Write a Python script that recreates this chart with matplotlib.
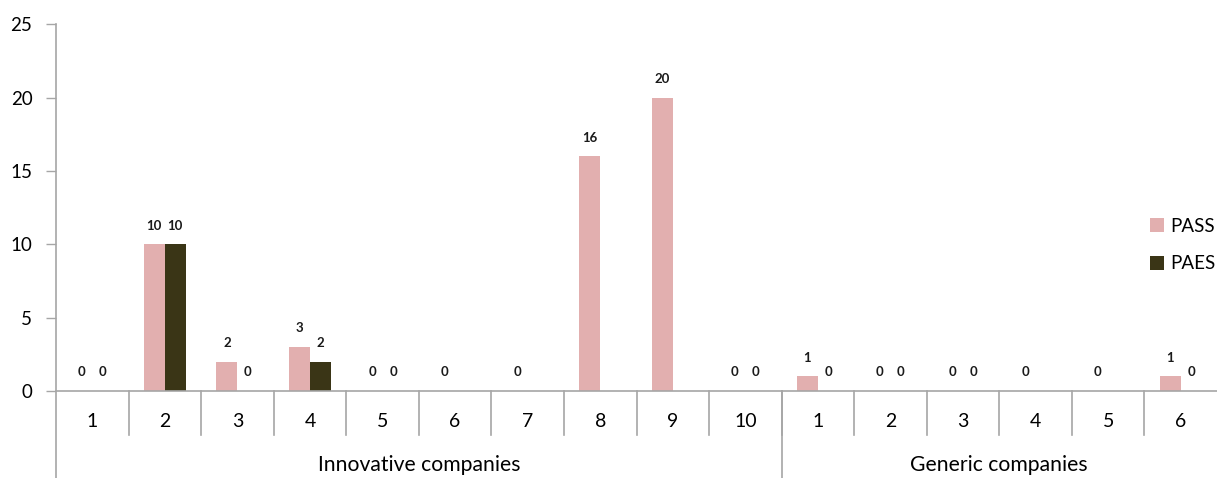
import matplotlib
matplotlib.use('Agg')
import matplotlib.pyplot as plt
import numpy as np

plt.rcParams['font.family'] = ['Lato', 'DejaVu Sans']

# data
categories = ['1', '2', '3', '4', '5', '6', '7', '8', '9', '10',
              '1', '2', '3', '4', '5', '6']
groups = ['Innovative companies', 'Generic companies']
group_sizes = [10, 6]
pass_vals = [0, 10, 2, 3, 0, 0, 0, 16, 20, 0, 1, 0, 0, 0, 0, 1]
paes_vals = [0, 10, 0, 2, 0, None, None, None, None, 0, 0, 0, 0, None, None, 0]

c_pass = '#E2AFAF'
c_paes = '#3A3516'
c_axis = '#A6A6A6'

fig = plt.figure(figsize=(12.17, 4.78), dpi=100)
ax = fig.add_axes([56/1217, 1-391/478, 1-56/1217, (391-24.3)/478])

x = np.arange(len(categories))
w = 0.29
pv = np.array(pass_vals, dtype=float)
av = np.array([np.nan if v is None else v for v in paes_vals], dtype=float)

ax.bar(x - w/2, pv, w, color=c_pass, label='PASS')
ax.bar(x + w/2, av, w, color=c_paes, label='PAES')

for xi, v in zip(x, pass_vals):
    ax.annotate(str(v), (xi - w/2, v), xytext=(0, 13.5), textcoords='offset points',
                ha='center', va='center', fontsize=9.5, fontweight='bold', color='#1a1a1a')
for xi, v in zip(x, paes_vals):
    if v is None:
        continue
    ax.annotate(str(v), (xi + w/2, v), xytext=(0, 13.5), textcoords='offset points',
                ha='center', va='center', fontsize=9.5, fontweight='bold', color='#1a1a1a')

ax.set_xlim(-0.5, len(categories) - 0.5)
ax.set_ylim(0, 25)
ax.set_yticks([0, 5, 10, 15, 20, 25])
ax.set_xticks([])
ax.tick_params(axis='y', length=7, width=1, color=c_axis, labelsize=13.5, pad=10)

for s in ['top', 'right', 'left']:
    ax.spines[s].set_visible(False)
ax.spines['bottom'].set_color(c_axis)
ax.spines['bottom'].set_linewidth(1.2)

# category axis: separators, labels, group labels
tr = ax.get_xaxis_transform()
y_sep = -44/366.7
y_bot = -87/366.7
ax.plot([-0.5, -0.5], [y_bot, 1], transform=tr, color=c_axis, lw=1.2, clip_on=False)
for b in range(1, len(categories)):
    ax.plot([b - 0.5, b - 0.5], [0, y_sep], transform=tr, color=c_axis, lw=1.2, clip_on=False)
for xi, lab in zip(x, categories):
    ax.text(xi, -30/366.7, lab, transform=tr, ha='center', va='center', fontsize=14)

start = 0
for g, n in zip(groups, group_sizes):
    if start > 0:
        ax.plot([start - 0.5, start - 0.5], [0, y_bot], transform=tr, color=c_axis, lw=1.2, clip_on=False)
    ax.text(start + (n - 1)/2, -74/366.7, g, transform=tr, ha='center', va='center', fontsize=15.2)
    start += n

fig.legend(loc='center left', bbox_to_anchor=(1150/1217, 1-245/478), frameon=False,
           fontsize=13.5, handlelength=0.75, handleheight=0.75, handletextpad=0.35,
           labelspacing=1.1, borderpad=0, borderaxespad=0)

fig.savefig('out.png', dpi=100)
